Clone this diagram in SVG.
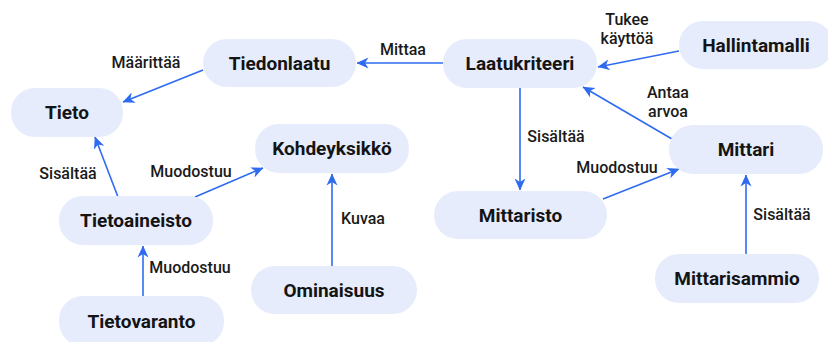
<svg xmlns="http://www.w3.org/2000/svg" width="828" height="342" viewBox="0 0 828 342">
<defs>
<style>
.node rect{fill:#e6ecfc;}
.node text{font-family:Roboto,"Liberation Sans",sans-serif;font-weight:700;font-size:19px;fill:#141414;text-anchor:middle;}
.edges line{stroke:#2f6bef;stroke-width:1.6;fill:none;marker-end:url(#arr);}
.lbl{font-family:Roboto,"Liberation Sans",sans-serif;font-weight:500;font-size:16px;fill:#1a1a1a;text-anchor:middle;}
</style>
<marker id="arr" viewBox="0 0 12 12" markerWidth="12" markerHeight="12" markerUnits="userSpaceOnUse" refX="11.5" refY="6" orient="auto">
<path d="M0,0.5 L12,6 L0,11.5 L3.5,6 z" fill="#2f6bef"/>
</marker>
</defs>
<rect width="828" height="342" fill="#ffffff"/>
<g id="edges" class="edges">
<line x1="203" y1="70" x2="123" y2="102"/>
<line x1="443" y1="63" x2="357" y2="63"/>
<line x1="679" y1="51" x2="598" y2="67"/>
<line x1="672" y1="139" x2="583" y2="87"/>
<line x1="520" y1="88" x2="520" y2="190"/>
<line x1="603" y1="199" x2="679" y2="169"/>
<line x1="746" y1="254" x2="746" y2="175"/>
<line x1="118" y1="197" x2="95" y2="137"/>
<line x1="195" y1="197" x2="263" y2="168"/>
<line x1="332" y1="266" x2="332" y2="174"/>
<line x1="143" y1="296" x2="143" y2="246"/>
</g>
<g id="labels">
<text class="lbl" x="146" y="62" dy=".35em">Määrittää</text>
<text class="lbl" x="403" y="49" dy=".35em">Mittaa</text>
<text class="lbl" x="627" y="19" dy=".35em">Tukee</text>
<text class="lbl" x="627" y="38" dy=".35em">käyttöä</text>
<text class="lbl" x="668" y="92" dy=".35em">Antaa</text>
<text class="lbl" x="668" y="111" dy=".35em">arvoa</text>
<text class="lbl" x="556" y="136" dy=".35em">Sisältää</text>
<text class="lbl" x="617" y="167" dy=".35em">Muodostuu</text>
<text class="lbl" x="782" y="214" dy=".35em">Sisältää</text>
<text class="lbl" x="68" y="173" dy=".35em">Sisältää</text>
<text class="lbl" x="191" y="171" dy=".35em">Muodostuu</text>
<text class="lbl" x="363" y="218" dy=".35em">Kuvaa</text>
<text class="lbl" x="190" y="267" dy=".35em">Muodostuu</text>
</g>
<g id="tiedonlaatu" class="node"><rect x="203" y="39" width="153" height="48" rx="24"/><text x="279.5" y="63" dy=".35em">Tiedonlaatu</text></g>
<g id="tieto" class="node"><rect x="11" y="88" width="112" height="49" rx="24"/><text x="67" y="112.5" dy=".35em">Tieto</text></g>
<g id="laatukriteeri" class="node"><rect x="443" y="39" width="154" height="49" rx="24"/><text x="520" y="63.5" dy=".35em">Laatukriteeri</text></g>
<g id="hallintamalli" class="node"><rect x="679" y="21" width="154" height="48" rx="24"/><text x="756" y="45" dy=".35em">Hallintamalli</text></g>
<g id="kohdeyksikko" class="node"><rect x="255" y="124" width="154" height="49" rx="24"/><text x="332" y="148.5" dy=".35em">Kohdeyksikkö</text></g>
<g id="tietoaineisto" class="node"><rect x="59" y="196" width="154" height="49" rx="24"/><text x="136" y="220.5" dy=".35em">Tietoaineisto</text></g>
<g id="tietovaranto" class="node"><rect x="59" y="296" width="165" height="50" rx="24"/><text x="141.5" y="321" dy=".35em">Tietovaranto</text></g>
<g id="ominaisuus" class="node"><rect x="251" y="266" width="166" height="48" rx="24"/><text x="334" y="290" dy=".35em">Ominaisuus</text></g>
<g id="mittari" class="node"><rect x="669" y="125" width="154" height="49" rx="24"/><text x="746" y="149.5" dy=".35em">Mittari</text></g>
<g id="mittaristo" class="node"><rect x="434" y="191" width="173" height="48" rx="24"/><text x="520.5" y="215" dy=".35em">Mittaristo</text></g>
<g id="mittarisammio" class="node"><rect x="655" y="254" width="164" height="49" rx="24"/><text x="737" y="278.5" dy=".35em">Mittarisammio</text></g>
</svg>
